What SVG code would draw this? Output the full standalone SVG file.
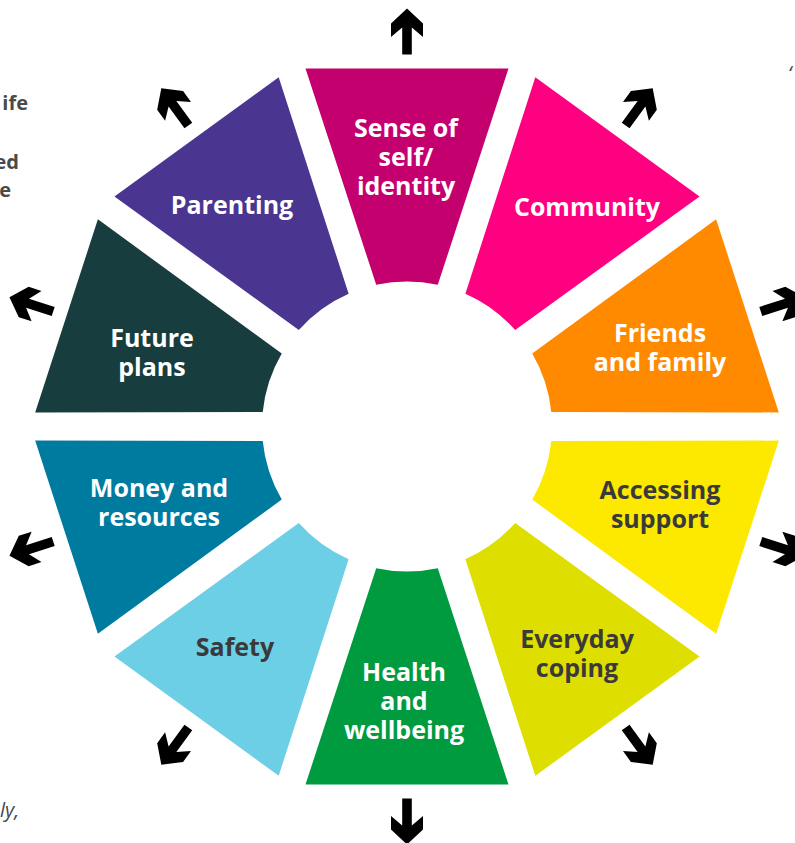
<svg xmlns="http://www.w3.org/2000/svg" xmlns:xlink="http://www.w3.org/1999/xlink" width="795" height="843" viewBox="0 0 795 843">
  <style>
    .lbl { font-family: "Open Sans", "Liberation Sans", sans-serif; font-weight: 700; font-size: 25px; text-anchor: middle; }
    .light { fill: #ffffff; }
    .dark { fill: #3a3a3a; }
    .side { font-family: "Open Sans", "Liberation Sans", sans-serif; font-size: 20px; fill: #4a4a4a; }
    .side-b { font-weight: 700; text-anchor: end; }
    .side-i { font-style: italic; }
    .arrow { fill: #000000; }
  </style>
  <defs>
    <!-- one ring segment, pointing straight up, centred on the origin -->
    <path id="seg" d="M-101.5,-358 L101.5,-358 L30.79,-141.69 A145 145 0 0 0 -30.79,-141.69 Z"/>
    <!-- outward block arrow, pointing straight up -->
    <path id="arrow" d="M0,-418 L16,-403 L16,-389.5 L4.8,-399 L4.8,-372 L-4.8,-372 L-4.8,-399 L-16,-389.5 L-16,-403 Z"/>
  </defs>

  <rect width="795" height="843" fill="#ffffff"/>

  <!-- fragments of surrounding page text -->
  <g id="page-text">
    <text class="side side-b" x="28" y="110">ife</text>
    <text class="side side-b" x="19" y="169">ed</text>
    <text class="side side-b" x="11" y="197">e</text>
    <text class="side side-i" x="0" y="817">ly,</text>
    <text class="side side-i" x="788" y="80">‘</text>
  </g>

  <g id="segments">
    <g id="sense-of-self">
      <use xlink:href="#seg" transform="translate(407 426.5) rotate(0)" fill="#C4006E"/>
      <text class="lbl light" x="406" y="137">Sense of<tspan x="406" dy="29">self/</tspan><tspan x="406" dy="29">identity</tspan></text>
    </g>
    <g id="community">
      <use xlink:href="#seg" transform="translate(407 426.5) rotate(36)" fill="#FF0080"/>
      <text class="lbl light" x="587" y="216">Community</text>
    </g>
    <g id="friends-and-family">
      <use xlink:href="#seg" transform="translate(407 426.5) rotate(72)" fill="#FF8A00"/>
      <text class="lbl light" x="660" y="342">Friends<tspan x="660" dy="29">and family</tspan></text>
    </g>
    <g id="accessing-support">
      <use xlink:href="#seg" transform="translate(407 426.5) rotate(108)" fill="#FDE800"/>
      <text class="lbl dark" x="660" y="499">Accessing<tspan x="660" dy="29">support</tspan></text>
    </g>
    <g id="everyday-coping">
      <use xlink:href="#seg" transform="translate(407 426.5) rotate(144)" fill="#DEDE00"/>
      <text class="lbl dark" x="577" y="648">Everyday<tspan x="577" dy="29">coping</tspan></text>
    </g>
    <g id="health-and-wellbeing">
      <use xlink:href="#seg" transform="translate(407 426.5) rotate(180)" fill="#009B3E"/>
      <text class="lbl light" x="404" y="681">Health<tspan x="404" dy="29">and</tspan><tspan x="404" dy="29">wellbeing</tspan></text>
    </g>
    <g id="safety">
      <use xlink:href="#seg" transform="translate(407 426.5) rotate(216)" fill="#6DCFE6"/>
      <text class="lbl dark" x="235" y="656">Safety</text>
    </g>
    <g id="money-and-resources">
      <use xlink:href="#seg" transform="translate(407 426.5) rotate(252)" fill="#007BA0"/>
      <text class="lbl light" x="159" y="497">Money and<tspan x="159" dy="29">resources</tspan></text>
    </g>
    <g id="future-plans">
      <use xlink:href="#seg" transform="translate(407 426.5) rotate(288)" fill="#183D3E"/>
      <text class="lbl light" x="152" y="347">Future<tspan x="152" dy="29">plans</tspan></text>
    </g>
    <g id="parenting">
      <use xlink:href="#seg" transform="translate(407 426.5) rotate(324)" fill="#4A3590"/>
      <text class="lbl light" x="232" y="214">Parenting</text>
    </g>
  </g>

  <!-- outward arrows, one beyond each segment -->
  <g id="connectors" class="arrow">
    <use xlink:href="#arrow" transform="translate(407 426.5) rotate(0)"/>
    <use xlink:href="#arrow" transform="translate(407 426.5) rotate(36)"/>
    <use xlink:href="#arrow" transform="translate(407 426.5) rotate(72)"/>
    <use xlink:href="#arrow" transform="translate(407 426.5) rotate(108)"/>
    <use xlink:href="#arrow" transform="translate(407 426.5) rotate(144)"/>
    <use xlink:href="#arrow" transform="translate(407 426.5) rotate(180)"/>
    <use xlink:href="#arrow" transform="translate(407 426.5) rotate(216)"/>
    <use xlink:href="#arrow" transform="translate(407 426.5) rotate(252)"/>
    <use xlink:href="#arrow" transform="translate(407 426.5) rotate(288)"/>
    <use xlink:href="#arrow" transform="translate(407 426.5) rotate(324)"/>
  </g>
</svg>
